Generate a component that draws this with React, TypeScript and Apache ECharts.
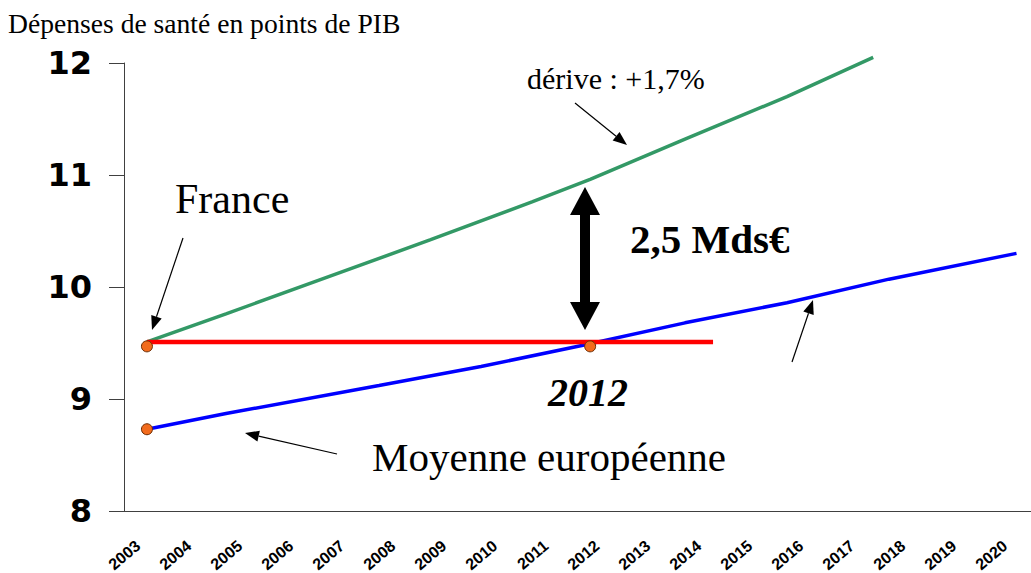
import React, { useEffect, useRef } from "react";
import * as echarts from "echarts";

// ---- data ----
const years = [
  "2003", "2004", "2005", "2006", "2007", "2008", "2009", "2010", "2011",
  "2012", "2013", "2014", "2015", "2016", "2017", "2018", "2019", "2020",
];
const yMin = 8;
const yMax = 12;
const yInterval = 1;

// France, trend with "dérive +1,7%"
const franceDerive: [number, number][] = [
  [2003.45, 9.51], [2005, 9.76], [2007, 10.09], [2009, 10.42], [2011, 10.76],
  [2012.14, 10.96], [2014, 11.32], [2016, 11.7], [2017.69, 12.05],
];
// Moyenne européenne
const europeAvg: [number, number][] = [
  [2003.45, 8.73], [2005, 8.87], [2008, 9.12], [2010, 9.29], [2012, 9.48],
  [2014, 9.68], [2016, 9.86], [2018, 10.07], [2020.5, 10.3],
];
// France, stabilised
const franceFlat: [number, number][] = [[2003.45, 9.51], [2014.55, 9.51]];
// highlighted points
const markers: [number, number][] = [[2003.45, 9.47], [2003.45, 8.73], [2012.14, 9.47]];

const TITLE = "Dépenses de santé en points de PIB";

function arrow(x1: number, y1: number, x2: number, y2: number, len = 14, w = 11) {
  const dx = x2 - x1, dy = y2 - y1;
  const d = Math.hypot(dx, dy);
  const ux = dx / d, uy = dy / d;
  const bx = x2 - ux * len, by = y2 - uy * len;
  const px = -uy, py = ux;
  return [
    { type: "line", shape: { x1, y1, x2: bx, y2: by }, style: { stroke: "#000", lineWidth: 1.2 } },
    {
      type: "polygon",
      shape: { points: [[x2, y2], [bx + (px * w) / 2, by + (py * w) / 2], [bx - (px * w) / 2, by - (py * w) / 2]] },
      style: { fill: "#000" },
    },
  ];
}

function text(x: number, y: number, t: string, font: string) {
  return {
    type: "text",
    x,
    y,
    style: { text: t, font, fill: "#000", textAlign: "left", textVerticalAlign: "middle" },
  };
}

const serif = '"Liberation Serif", "Times New Roman", serif';

export default function App() {
  const ref = useRef<HTMLDivElement>(null);
  useEffect(() => {
    if (!ref.current) return;
    const chart = echarts.init(ref.current, undefined, { renderer: "svg" });
    chart.setOption({
      animation: false,
      backgroundColor: "#fff",
      grid: { left: 124, top: 63, width: 918, height: 448, outerBoundsMode: "none" },
      xAxis: [
        {
          type: "category",
          data: years,
          boundaryGap: true,
          axisLine: { lineStyle: { color: "#404040", width: 1 } },
          axisTick: { length: 5, lineStyle: { color: "#404040" } },
          axisLabel: {
            rotate: 40,
            interval: 0,
            margin: 23,
            padding: [0, 15, 0, 0],
            fontFamily: '"Liberation Sans", Arial, sans-serif',
            fontWeight: "bold",
            fontSize: 16,
            color: "#000",
          },
          splitLine: { show: false },
        },
        {
          type: "value",
          min: 2003,
          max: 2021,
          show: false,
          splitLine: { show: false },
        },
      ],
      yAxis: {
        type: "value",
        min: yMin,
        max: yMax,
        interval: yInterval,
        axisLine: { show: true, lineStyle: { color: "#404040", width: 1 } },
        axisTick: { show: true, length: 15, lineStyle: { color: "#404040" } },
        axisLabel: {
          margin: 32,
          fontFamily: '"DejaVu Sans", sans-serif',
          fontWeight: "bold",
          fontSize: 32,
          color: "#000",
        },
        splitLine: { show: false },
      },
      series: [
        {
          type: "line",
          xAxisIndex: 1,
          data: franceDerive,
          showSymbol: false,
          clip: false,
          lineStyle: { color: "#339966", width: 3.5 },
          z: 2,
        },
        {
          type: "line",
          xAxisIndex: 1,
          data: europeAvg,
          showSymbol: false,
          clip: false,
          lineStyle: { color: "#0000FF", width: 3.5 },
          z: 2,
        },
        {
          type: "line",
          xAxisIndex: 1,
          data: franceFlat,
          showSymbol: false,
          lineStyle: { color: "#FF0000", width: 4.5 },
          z: 3,
        },
        {
          type: "scatter",
          xAxisIndex: 1,
          data: markers,
          symbolSize: 11,
          itemStyle: { color: "#F26B1D", borderColor: "#6b2a00", borderWidth: 1, opacity: 1 },
          z: 5,
        },
      ],
      graphic: [
        text(8, 23, TITLE, `normal 27.6px ${serif}`),
        text(175, 199, "France", `normal 42px ${serif}`),
        text(527, 78, "dérive : +1,7%", `normal 30px ${serif}`),
        text(630, 239, "2,5 Mds€", `bold 41px ${serif}`),
        text(548, 392, "2012", `italic bold 40px ${serif}`),
        text(372, 457, "Moyenne européenne", `normal 41px ${serif}`),
        ...arrow(183, 238, 152, 330),
        ...arrow(575, 103, 627, 145),
        ...arrow(337, 454, 245, 433),
        ...arrow(792, 362, 813, 300),
        // double arrow
        { type: "rect", shape: { x: 580, y: 213, width: 10, height: 91 }, style: { fill: "#000" } },
        { type: "polygon", shape: { points: [[585, 187], [570, 215], [600, 215]] }, style: { fill: "#000" } },
        { type: "polygon", shape: { points: [[585, 330], [570, 302], [600, 302]] }, style: { fill: "#000" } },
      ],
    });
    return () => chart.dispose();
  }, []);
  return (
    <div
      ref={ref}
      style={{ position: "fixed", left: 0, top: 0, width: 1070, height: 620, background: "#fff" }}
    />
  );
}
